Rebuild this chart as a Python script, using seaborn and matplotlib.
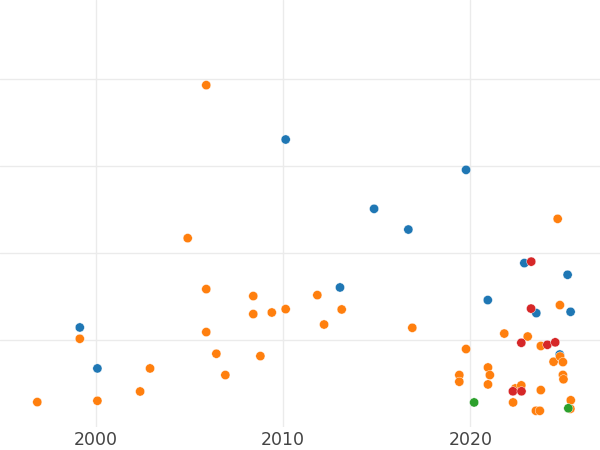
import pandas as pd
import matplotlib
matplotlib.use("Agg")
import matplotlib.pyplot as plt
import seaborn as sns

# Values (y axis has no labels, units are arbitrary)
blue_year = [1999.15, 2000.09, 2010.14, 2013.04, 2014.86, 2016.69, 2019.77,
             2020.93, 2022.88, 2023.52, 2024.77, 2025.19, 2025.35]
blue_value = [1.145, 0.674, 3.306, 1.605, 2.509, 2.271, 2.957,
              1.460, 1.885, 1.310, 0.834, 1.751, 1.325]

orange_year = [1996.88, 1999.15, 2000.09, 2002.37, 2002.90, 2004.91, 2005.90,
               2005.90, 2005.90, 2006.44, 2006.92, 2008.41, 2008.41, 2008.79,
               2009.40, 2010.14, 2011.83, 2012.19, 2013.13, 2016.90, 2019.41,
               2019.41, 2019.77, 2020.94, 2021.04, 2020.94, 2021.81, 2022.28,
               2022.40, 2022.72, 2023.06, 2023.50, 2023.71, 2023.76, 2023.76,
               2024.44, 2024.66, 2024.78, 2024.79, 2024.94, 2024.94, 2024.97,
               2025.36, 2025.34]
orange_value = [0.287, 1.015, 0.302, 0.409, 0.674, 2.172, 3.931,
                1.586, 1.092, 0.843, 0.598, 1.506, 1.299, 0.816,
                1.317, 1.356, 1.517, 1.179, 1.352, 1.141, 0.598,
                0.521, 0.897, 0.685, 0.598, 0.490, 1.075, 0.283,
                0.444, 0.479, 1.041, 0.187, 0.187, 0.425, 0.932,
                0.751, 2.394, 1.402, 0.811, 0.747, 0.599, 0.549,
                0.308, 0.210]

red_year = [2023.25, 2023.24, 2022.72, 2024.11, 2024.53, 2022.27, 2022.73]
red_value = [1.902, 1.362, 0.969, 0.946, 0.974, 0.411, 0.411]

green_year = [2020.20, 2025.23]
green_value = [0.283, 0.216]

x_ticks = [2000, 2010, 2020]
y_grid = [1, 2, 3, 4]

groups = ["Series 1", "Series 2", "Series 3", "Series 4"]
colors = ["#1f77b4", "#ff7f0e", "#d62728", "#2ca02c"]

df = pd.concat([
    pd.DataFrame({"year": blue_year, "value": blue_value, "group": groups[0]}),
    pd.DataFrame({"year": orange_year, "value": orange_value, "group": groups[1]}),
    pd.DataFrame({"year": red_year, "value": red_value, "group": groups[2]}),
    pd.DataFrame({"year": green_year, "value": green_value, "group": groups[3]}),
], ignore_index=True)

sns.set_style("white")

fig = plt.figure(figsize=(6, 4.5), dpi=100)
ax = fig.add_axes([0, 0.051, 1, 0.949])

sns.scatterplot(data=df, x="year", y="value", hue="group",
                palette=dict(zip(groups, colors)), s=44, linewidth=0.3,
                edgecolor="white", legend=False, ax=ax, zorder=3)

ax.set_xlim(1994.89, 2026.92)
ax.set_ylim(0, 4.91)
ax.set_xticks(x_ticks)
ax.set_yticks(y_grid)
ax.set_yticklabels([])
ax.grid(True, color="#ebebeb", linewidth=1)
ax.set_axisbelow(True)
ax.tick_params(axis="both", length=0, pad=3, labelsize=12.5, labelcolor="#444444")
ax.set_xlabel("")
ax.set_ylabel("")
for s in ax.spines.values():
    s.set_visible(False)

fig.savefig("out.png", dpi=100)
